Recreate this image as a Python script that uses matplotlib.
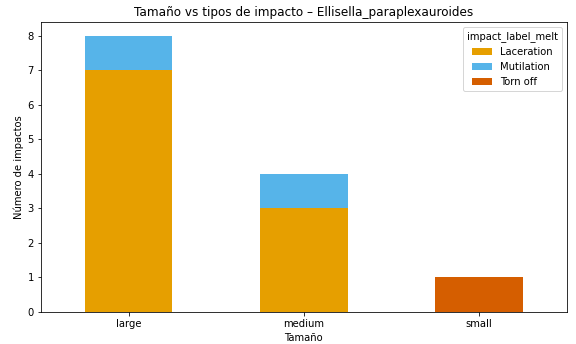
import matplotlib
matplotlib.use('agg')
import matplotlib.pyplot as plt
import pandas as pd

sizes = ["large", "medium", "small"]
laceration = [7, 3, 0]
mutilation = [1, 1, 0]
torn_off = [0, 0, 1]

df = pd.DataFrame({"Laceration": laceration,
                   "Mutilation": mutilation,
                   "Torn off": torn_off}, index=sizes)
df.columns.name = "impact_label_melt"

fig, ax = plt.subplots(figsize=(8, 4.778), dpi=72)
df.plot(kind="bar", stacked=True, ax=ax,
        color=["#E69F00", "#56B4E9", "#D55E00"])
ax.set_title("Tamaño vs tipos de impacto – Ellisella_paraplexauroides")
ax.set_xlabel("Tamaño")
ax.set_ylabel("Número de impactos")
plt.xticks(rotation=0)
ax.legend(title="impact_label_melt")
fig.subplots_adjust(left=0.071, right=0.984, top=0.936, bottom=0.093)
fig.savefig("out.png")
